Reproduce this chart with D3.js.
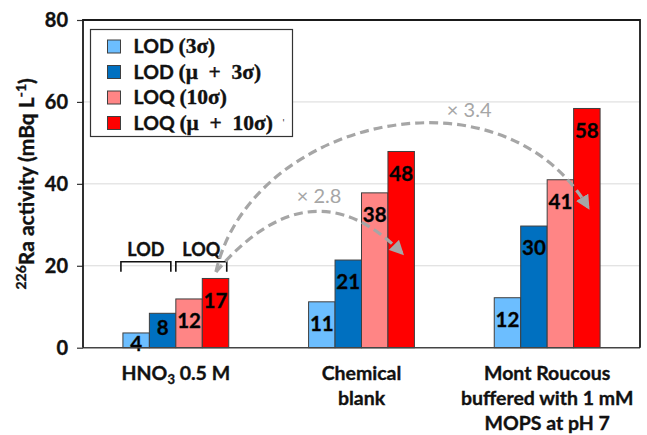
<!DOCTYPE html>
<html>
<head>
<meta charset="utf-8">
<script src="https://cdn.jsdelivr.net/npm/d3@7"></script>
<style>
  html, body { margin: 0; padding: 0; background: #fff; }
  svg { display: block; }
  .heavy { stroke: #111; stroke-width: 0.35px; }
</style>
</head>
<body>
<svg id="chart" width="647" height="435"></svg>
<script>
// ---- Data ----
const categories = ["HNO3 0.5 M", "Chemical blank", "Mont Roucous buffered with 1 mM MOPS at pH 7"];
const seriesKeys = ["lod3s", "lodMu3s", "loq10s", "loqMu10s"];
const seriesPrefix = ["LOD ", "LOD ", "LOQ ", "LOQ "];
const seriesMath = ["(3σ)", "(μ\u2002+\u20023σ)", "(10σ)", "(μ\u2002+\u200210σ)"];
const seriesColors = ["#6CBEFF", "#0070C0", "#FF8585", "#FF0000"];
const lod3s = [3.6, 11.2, 12.2];
const lodMu3s = [8.4, 21.4, 29.7];
const loq10s = [11.9, 37.8, 41.0];
const loqMu10s = [16.9, 47.9, 58.4];
const yTicks = [0, 20, 40, 60, 80];
const factorLabels = ["× 2.8", "× 3.4"];

const seriesValues = { lod3s, lodMu3s, loq10s, loqMu10s };
const table = categories.map((c, i) => ({ category: c, ...Object.fromEntries(seriesKeys.map(k => [k, seriesValues[k][i]])) }));

// ---- Layout ----
const svg = d3.select("#chart");
const L = 83, R = 640, T = 20, B = 347.7;
const FONT = "Lato, 'Open Sans', sans-serif";

const x = d3.scaleBand().domain(categories).range([L, R]).paddingInner(0.43).paddingOuter(0.215);
const xs = d3.scaleBand().domain(seriesKeys).range([0, x.bandwidth()]);
const y = d3.scaleLinear().domain([0, 80]).range([B, T]);
const xc = d3.scaleLinear().domain([0, 3]).range([L, R]); // continuous group-position scale for annotations

// gridlines
svg.append("g").selectAll("line").data(yTicks.filter(t => t > 0 && t < 80)).join("line")
  .attr("x1", L).attr("x2", R).attr("y1", d => y(d)).attr("y2", d => y(d))
  .attr("stroke", "#D9D9D9").attr("stroke-width", 1);

// y axis
const yAxis = svg.append("g").attr("transform", `translate(${L},0)`)
  .call(d3.axisLeft(y).tickValues(yTicks).tickSize(6).tickPadding(9));
yAxis.select(".domain").remove();
yAxis.selectAll("line").attr("stroke", "#333").attr("stroke-width", 1.2);
yAxis.selectAll("text").attr("font-family", FONT).attr("font-weight", "bold")
  .attr("font-size", 20).attr("fill", "#111").attr("class", "heavy");

// y title
const yt = svg.append("text")
  .attr("transform", `translate(34,${(T + B) / 2}) rotate(-90)`)
  .attr("text-anchor", "middle").attr("font-family", FONT).attr("font-weight", "bold")
  .attr("font-size", 21).attr("fill", "#111").attr("class", "heavy");
yt.append("tspan").attr("font-size", 14).attr("dy", -8).text("226");
yt.append("tspan").attr("dy", 8).text("Ra activity (mBq L");
yt.append("tspan").attr("font-size", 14).attr("dy", -8).text("-1");
yt.append("tspan").attr("dy", 8).text(")");

// bars
const groups = svg.append("g").selectAll("g").data(table).join("g")
  .attr("transform", d => `translate(${x(d.category)},0)`);
groups.selectAll("rect").data(d => seriesKeys.map((k, i) => ({ key: k, i, value: d[k] }))).join("rect")
  .attr("x", d => xs(d.key)).attr("width", xs.bandwidth())
  .attr("y", d => y(d.value)).attr("height", d => y(0) - y(d.value))
  .attr("fill", d => seriesColors[d.i]).attr("stroke", "#3f3f3f").attr("stroke-width", 1);

// bar labels
groups.selectAll("text").data(d => seriesKeys.map((k, i) => ({ key: k, i, value: d[k] }))).join("text")
  .attr("x", d => xs(d.key) + xs.bandwidth() / 2)
  .attr("y", d => {
    const h = y(0) - y(d.value);
    const off = h > 45 ? 22 : (h > 25 ? 15 : 11);
    return y(d.value) + off;
  })
  .attr("dy", "0.35em").attr("text-anchor", "middle")
  .attr("font-family", FONT).attr("font-weight", "bold").attr("font-size", 20.5).attr("fill", "#000")
  .attr("class", "heavy")
  .text(d => Math.round(d.value));

// frame
svg.append("line").attr("x1", L).attr("x2", R).attr("y1", B).attr("y2", B).attr("stroke", "#444").attr("stroke-width", 1.6);
svg.append("path").attr("d", `M${L},${B} V${T} H${R} V${B}`).attr("fill", "none").attr("stroke", "#1a1a1a").attr("stroke-width", 1.8);

// x labels
const firstLines = ["HNO", "Chemical", "Mont Roucous"];
const extraLines = [[], ["blank"], ["buffered with 1 mM", "MOPS at pH 7"]];
categories.forEach((c, i) => {
  const cx = x(c) + x.bandwidth() / 2;
  const t = svg.append("text").attr("x", cx).attr("y", 380).attr("text-anchor", "middle")
    .attr("font-family", FONT).attr("font-weight", "bold").attr("font-size", 19.5).attr("fill", "#111").attr("class", "heavy");
  if (i === 0) {
    t.append("tspan").text("HNO");
    t.append("tspan").attr("font-size", 13).attr("dy", 4).text("3");
    t.append("tspan").attr("dy", -4).text(" 0.5 M");
  } else {
    t.text(firstLines[i]);
  }
  extraLines[i].forEach((ln, j) => {
    svg.append("text").attr("x", cx).attr("y", 380 + 25 * (j + 1)).attr("text-anchor", "middle")
      .attr("font-family", FONT).attr("font-weight", "bold").attr("font-size", 19.5).attr("fill", "#111")
      .attr("class", "heavy").text(ln);
  });
});

// brackets LOD / LOQ above first group
const g0 = x(categories[0]);
const brackets = [
  { label: "LOD", x0: g0 + xs(seriesKeys[0]) - 2, x1: g0 + xs(seriesKeys[1]) + xs.bandwidth() - 5 },
  { label: "LOQ", x0: g0 + xs(seriesKeys[2]), x1: g0 + xs(seriesKeys[3]) + xs.bandwidth() - 2 }
];
const by = y(21);
brackets.forEach(b => {
  svg.append("path").attr("d", `M${b.x0},${by + 10} V${by} H${b.x1} V${by + 10}`)
    .attr("fill", "none").attr("stroke", "#111").attr("stroke-width", 1.6);
  svg.append("text").attr("x", (b.x0 + b.x1) / 2).attr("y", by - 6).attr("text-anchor", "middle")
    .attr("font-family", FONT).attr("font-weight", "bold").attr("font-size", 18).attr("fill", "#111")
    .attr("class", "heavy").text(b.label);
});

// arrows
const defs = svg.append("defs");
defs.append("marker").attr("id", "ah").attr("viewBox", "0 0 10 10").attr("refX", 8).attr("refY", 5)
  .attr("markerWidth", 4.5).attr("markerHeight", 4.5).attr("orient", "auto").attr("markerUnits", "strokeWidth")
  .append("path").attr("d", "M0,0 L10,5 L0,10 z").attr("fill", "#A6A6A6");

const start = [xc(0.716), y(18.5)];
const arc1 = d3.path();
arc1.moveTo(...start);
arc1.quadraticCurveTo(xc(1.228), y(45.6), xc(1.718), y(23.1));
const arc2 = d3.path();
arc2.moveTo(...start);
arc2.bezierCurveTo(xc(0.899), y(55.6), xc(2.246), y(70.2), xc(2.72), y(34.3));
[arc1, arc2].forEach(p => {
  svg.append("path").attr("d", p.toString()).attr("fill", "none").attr("stroke", "#A6A6A6")
    .attr("stroke-width", 3.2).attr("stroke-dasharray", "9,5").attr("marker-end", "url(#ah)");
});
svg.append("text").attr("x", xc(1.271)).attr("y", y(35.3)).attr("text-anchor", "middle")
  .attr("font-family", FONT).attr("font-size", 20).attr("fill", "#A6A6A6").text(factorLabels[0]);
svg.append("text").attr("x", xc(2.08)).attr("y", y(56.3)).attr("text-anchor", "middle")
  .attr("font-family", FONT).attr("font-size", 20).attr("fill", "#A6A6A6").text(factorLabels[1]);

// legend
const lg = svg.append("g").attr("transform", "translate(90.5,29.5)");
lg.append("rect").attr("width", 202).attr("height", 107).attr("fill", "#fff").attr("stroke", "#333").attr("stroke-width", 1.2);
seriesKeys.forEach((k, i) => {
  const ry = 17 + i * 25.5;
  lg.append("rect").attr("x", 17).attr("y", ry - 6.5).attr("width", 13).attr("height", 13)
    .attr("fill", seriesColors[i]).attr("stroke", "#3f3f3f").attr("stroke-width", 1);
  const t = lg.append("text").attr("x", 43).attr("y", ry + 6.5).attr("font-weight", "bold").attr("font-size", 19.5)
    .attr("fill", "#111").attr("class", "heavy");
  t.append("tspan").attr("font-family", FONT).text(seriesPrefix[i]);
  t.append("tspan").attr("font-family", "'Liberation Serif', 'DejaVu Serif', serif").attr("font-size", 21.5).text(seriesMath[i]);
});
lg.append("text").attr("x", 192).attr("y", 17 + 3 * 25.5 + 3).attr("font-family", FONT).attr("font-size", 10).attr("fill", "#333").text("'");
</script>
</body>
</html>
